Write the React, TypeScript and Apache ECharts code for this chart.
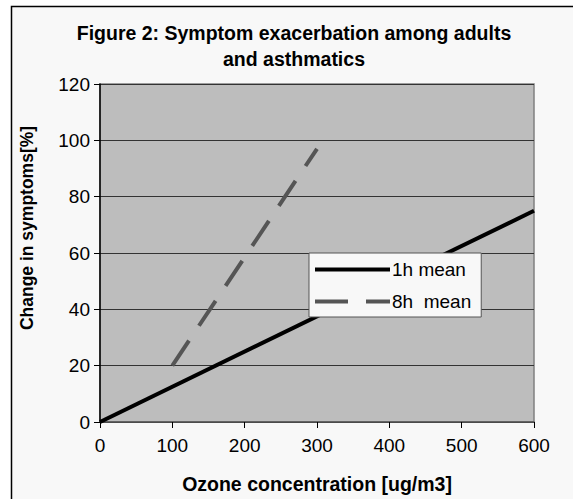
import React, { useEffect, useRef } from "react";
import * as echarts from "echarts";

const seriesNames = ["1h mean", "8h  mean"];
const oneHour: [number, number][] = [
  [0, 0],
  [600, 75],
];
const eightHour: [number, number][] = [
  [100, 20],
  [300, 97],
];
const titleLines = ["Figure 2: Symptom exacerbation among adults", "and asthmatics"];
const xName = "Ozone concentration [ug/m3]";
const yName = "Change in symptoms[%]";

export default function App() {
  const ref = useRef<HTMLDivElement>(null);
  useEffect(() => {
    if (!ref.current) return;
    const chart = echarts.init(ref.current, null, { renderer: "svg" });
    const font = "'Liberation Sans', Arial, sans-serif";
    const dash = [30, 18];
    chart.setOption({
      animation: false,
      backgroundColor: "#ffffff",
      textStyle: { fontFamily: font },
      graphic: [
        {
          type: "rect",
          z: -10,
          shape: { x: 11.5, y: 6.5, width: 600, height: 600 },
          style: { fill: "#F8F8F8", stroke: "#000", lineWidth: 1.5 },
        },
      ],
      title: {
        text: titleLines.join("\n"),
        left: 289,
        top: 15,
        textAlign: "center",
        textStyle: {
          fontFamily: font,
          fontWeight: "bold",
          fontSize: 19.5,
          lineHeight: 26,
          color: "#000",
        },
      },
      grid: {
        left: 100,
        right: 39,
        top: 84,
        bottom: 75,
        show: true,
        backgroundColor: "#BDBDBD",
        borderColor: "#808080",
        borderWidth: 1.5,
      },
      legend: {
        orient: "vertical",
        left: 309,
        top: 253,
        padding: [7, 10, 6, 4],
        itemWidth: 75,
        itemHeight: 12,
        itemGap: 13,
        backgroundColor: "#F8F8F8",
        borderColor: "#555",
        borderWidth: 1,
        borderRadius: 0,
        textStyle: { fontFamily: font, fontSize: 19, color: "#000", padding: [0, 0, 0, -3] },
        data: [
          {
            name: seriesNames[0],
            itemStyle: { opacity: 0 },
            lineStyle: { color: "#000", width: 4, type: "solid" },
          },
          {
            name: seriesNames[1],
            itemStyle: { opacity: 0 },
            lineStyle: { color: "#555", width: 4, type: [33, 18] },
          },
        ],
      },
      xAxis: {
        type: "value",
        min: 0,
        max: 600,
        interval: 100,
        name: xName,
        nameLocation: "middle",
        nameGap: 52,
        nameTextStyle: { fontFamily: font, fontWeight: "bold", fontSize: 19.5, color: "#000" },
        axisLine: { show: true, lineStyle: { color: "#555", width: 1.5 } },
        axisTick: { show: true, length: 6, lineStyle: { color: "#000" } },
        axisLabel: { fontFamily: font, fontSize: 19, color: "#000", margin: 14 },
        splitLine: { show: false },
      },
      yAxis: {
        type: "value",
        min: 0,
        max: 120,
        interval: 20,
        name: yName,
        nameLocation: "middle",
        nameGap: 64,
        nameRotate: 90,
        nameTextStyle: {
          fontFamily: font,
          fontWeight: "bold",
          fontSize: 17.5,
          color: "#000",
          padding: [0, 0, 0, 50],
        },
        axisLine: { show: true, lineStyle: { color: "#000", width: 1.5 } },
        axisTick: { show: true, length: 6, lineStyle: { color: "#000" } },
        axisLabel: { fontFamily: font, fontSize: 19, color: "#000", margin: 10 },
        splitLine: { show: true, lineStyle: { color: "#333", width: 1 } },
      },
      series: [
        {
          name: seriesNames[0],
          type: "line",
          data: oneHour,
          symbol: "none",
          lineStyle: { color: "#000", width: 4 },
          itemStyle: { color: "#000" },
        },
        {
          name: seriesNames[1],
          type: "line",
          data: eightHour,
          symbol: "none",
          lineStyle: { color: "#555", width: 4, type: dash },
          itemStyle: { color: "#555" },
        },
      ],
    });
    return () => chart.dispose();
  }, []);
  return (
    <div
      ref={ref}
      style={{ position: "fixed", left: 0, top: 0, width: 573, height: 499 }}
    />
  );
}
